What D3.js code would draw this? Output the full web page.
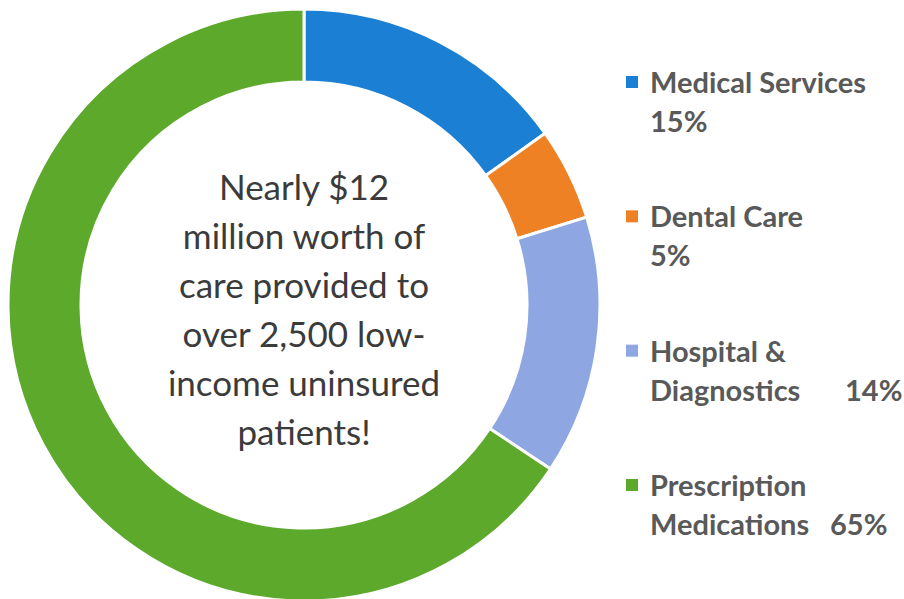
<!DOCTYPE html>
<html lang="en">
<head>
    <meta charset="UTF-8">
    <title>Donut Chart</title>
    <script src="https://d3js.org/d3.v7.min.js"></script>
    <style>
        body { margin: 0; background: #fff; }
        text { font-family: Lato, "Open Sans", sans-serif; }
    </style>
</head>
<body>
    <svg width="904" height="599"></svg>

    <script>
        // data
        const categories = ["Medical Services", "Dental Care", "Hospital & Diagnostics", "Prescription Medications"];
        const shares = [15, 5, 14, 65];
        const colors = ["#1b7fd4", "#ee8124", "#8ea7e2", "#5ca92c"];
        // legend text as it wraps in the original
        const legendFirst = ["Medical Services", "Dental Care", "Hospital &", "Prescription"];
        const legendSecond = ["", "", "Diagnostics", "Medications"];
        const centerLines = ["Nearly $12", "million worth of", "care provided to", "over 2,500 low-", "income uninsured", "patients!"];

        const svg = d3.select('svg');
        const cx = 304, cy = 305;
        const outerR = 296, innerR = 223;

        const pie = d3.pie().sort(null).value(d => d.value);
        const arc = d3.arc().innerRadius(innerR).outerRadius(outerR);
        const data = categories.map((c, i) => ({ name: c, value: shares[i] }));
        const color = d3.scaleOrdinal().domain(categories).range(colors);

        const g = svg.append('g').attr('transform', `translate(${cx},${cy})`);
        g.selectAll('path')
            .data(pie(data))
            .enter().append('path')
            .attr('d', arc)
            .attr('fill', d => color(d.data.name))
            .attr('stroke', '#fff')
            .attr('stroke-width', 3);

        // centre text
        const lineH = 49;
        g.append('text')
            .attr('text-anchor', 'middle')
            .attr('fill', '#3b3b3b')
            .attr('font-size', 35)
            .selectAll('tspan')
            .data(centerLines)
            .enter().append('tspan')
            .attr('x', 0)
            .attr('y', (d, i) => -105 + i * lineH)
            .text(d => d);

        // legend
        const legend = svg.append('g').attr('transform', 'translate(626,0)');
        const rowY = d3.scaleLinear().domain([0, 3]).range([93, 496]);
        const items = legend.selectAll('g.item')
            .data(data)
            .enter().append('g')
            .attr('class', 'item')
            .attr('transform', (d, i) => `translate(0,${rowY(i)})`);

        items.append('rect')
            .attr('x', 0).attr('y', -17)
            .attr('width', 12).attr('height', 12)
            .attr('fill', d => color(d.name));

        const fs = 29;
        items.append('text')
            .attr('x', 24).attr('y', 0)
            .attr('font-size', fs).attr('font-weight', 700).attr('fill', '#595959')
            .text((d, i) => legendFirst[i]);

        items.append('text')
            .attr('x', 24).attr('y', 39)
            .attr('font-size', fs).attr('font-weight', 700).attr('fill', '#595959')
            .text((d, i) => legendSecond[i]);

        items.append('text')
            .attr('x', (d, i) => legendSecond[i] ? (i === 2 ? 219 : 204) : 24)
            .attr('y', 39)
            .attr('font-size', fs).attr('font-weight', 700).attr('fill', '#595959')
            .text(d => d.value + '%');
    </script>
</body>
</html>
